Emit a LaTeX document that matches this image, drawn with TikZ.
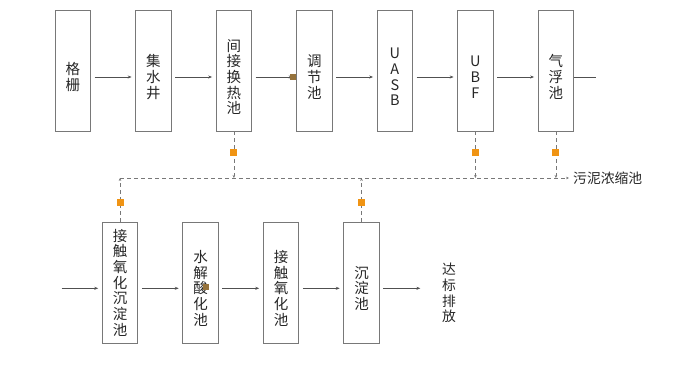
\documentclass[tikz,border=0pt]{standalone}
\usepackage{fontspec}
\setmainfont{Noto Sans CJK SC}
\usetikzlibrary{positioning,arrows.meta}

\definecolor{boxgray}{RGB}{120,120,120}
\definecolor{linegray}{RGB}{80,80,80}
\definecolor{dashgray}{RGB}{120,120,120}
\definecolor{sludgeorange}{RGB}{240,148,20}
\definecolor{valvebrown}{RGB}{150,115,60}

\begin{document}
\begin{tikzpicture}[
	x=1pt, y=-1pt,
	node distance=44.2pt,
	pool/.style={rectangle, draw=boxgray, line width=0.8pt, minimum width=35.5pt, minimum height=121pt, inner sep=0pt},
	poolname/.style={align=center, inner sep=0pt, font=\fontsize{14.5}{15.7}\selectfont, text=black!85},
	outtext/.style={align=center, inner sep=0pt, font=\fontsize{13.8}{15.7}\selectfont, text=black!85},
	flow/.style={-{Stealth[length=4pt,width=3pt]}, draw=linegray, line width=0.7pt, shorten <=3.6pt, shorten >=3.6pt},
	sludge/.style={-{Stealth[length=3pt,width=2.6pt]}, draw=dashgray, line width=0.7pt, dash pattern=on 4pt off 3pt},
	sludgemark/.style={rectangle, fill=sludgeorange, minimum size=7pt, inner sep=0pt},
	valvemark/.style={rectangle, fill=valvebrown, minimum size=6pt, inner sep=0pt}
]
\useasboundingbox (0,0) rectangle (677,370);
% top row
\node (gs) [pool] at (72.9,70.5) {};
\node (jsj) [pool, right=of gs] {};
\node (jjhr) [pool, right=of jsj] {};
\node (tjc) [pool, right=of jjhr] {};
\node (uasb) [pool, right=of tjc] {};
\node (ubf) [pool, right=of uasb] {};
\node (qf) [pool, right=of ubf] {};
\node (gs-t) [poolname] at ([yshift=-6.5pt]gs.center) {格\\栅};
\node (jsj-t) [poolname] at ([yshift=-6.5pt]jsj.center) {集\\水\\井};
\node (jjhr-t) [poolname] at ([yshift=-6.5pt]jjhr.center) {间\\接\\换\\热\\池};
\node (tjc-t) [poolname] at ([yshift=-6.5pt]tjc.center) {调\\节\\池};
\node (uasb-t) [poolname] at ([yshift=-6.5pt]uasb.center) {U\\A\\S\\B};
\node (ubf-t) [poolname] at ([yshift=-6.5pt]ubf.center) {U\\B\\F};
\node (qf-t) [poolname] at ([yshift=-6.5pt]qf.center) {气\\浮\\池};
\coordinate (qf-out) at (596,77);
% bottom row
\node (jcyhcd) [pool] at (120,282.7) {};
\node (sjsh) [pool, right=of jcyhcd] {};
\node (jcyh) [pool, right=of sjsh] {};
\node (cdc) [pool, right=of jcyh] {};
\node (jcyhcd-t) [poolname] at (jcyhcd.center) {接\\触\\氧\\化\\沉\\淀\\池};
\node (sjsh-t) [poolname] at ([yshift=-5.6pt]sjsh.center) {水\\解\\酸\\化\\池};
\node (jcyh-t) [poolname] at ([yshift=-5.6pt]jcyh.center) {接\\触\\氧\\化\\池};
\node (cdc-t) [poolname] at ([yshift=-5.6pt]cdc.center) {沉\\淀\\池};
\node (dbpf) [outtext] at (449,293) {达\\标\\排\\放};
\coordinate (in) at (61.7,288.3);
% sludge line
\node (wnns) [outtext, anchor=west] at (573,178) {污泥浓缩池};

\draw [flow] (gs.east |- gs-t) -- (jsj.west |- gs-t);
\draw [flow] (jsj.east |- jsj-t) -- (jjhr.west |- jsj-t);
\draw [flow] (jjhr.east |- jjhr-t) -- (tjc.west |- jjhr-t);
\path (tjc.west |- tjc-t) ++(-3.5,0) node [valvemark] (tjc-v) {};
\draw [flow] (tjc.east |- tjc-t) -- (uasb.west |- tjc-t);
\draw [flow] (uasb.east |- uasb-t) -- (ubf.west |- uasb-t);
\draw [flow] (ubf.east |- ubf-t) -- (qf.west |- ubf-t);
\draw [draw=linegray, line width=0.7pt] (qf.east |- qf-out) -- (qf-out);

\draw [flow, shorten <=0pt] (in) -- (jcyhcd.west |- in);
\draw [flow] (jcyhcd.east |- sjsh-t) -- (sjsh.west |- sjsh-t);
\draw [flow] (sjsh.east |- jcyh-t) -- (jcyh.west |- jcyh-t);
\draw [flow] (jcyh.east |- cdc-t) -- (cdc.west |- cdc-t);
\draw [flow, shorten >=21.5pt] (cdc.east |- cdc-t) -- (dbpf.west |- cdc-t);
\path (sjsh.center) ++(5.5,4.3) node [valvemark] (sjsh-v) {};

\draw [sludge] (jcyhcd.north |- wnns.west) -- ([xshift=-4pt]wnns.west);
\draw [sludge] (jjhr.south) -- node [sludgemark, pos=0.45] (jjhr-m) {} (jjhr.south |- wnns.west);
\draw [sludge] (ubf.south) -- node [sludgemark, pos=0.45] (ubf-m) {} (ubf.south |- wnns.west);
\draw [sludge] (qf.south) -- node [sludgemark, pos=0.45] (qf-m) {} (qf.south |- wnns.west);
\draw [sludge] (jcyhcd.north) -- node [sludgemark, pos=0.44] (jcyhcd-m) {} (jcyhcd.north |- wnns.west);
\draw [sludge] (cdc.north) -- node [sludgemark, pos=0.44] (cdc-m) {} (cdc.north |- wnns.west);
\end{tikzpicture}
\end{document}
